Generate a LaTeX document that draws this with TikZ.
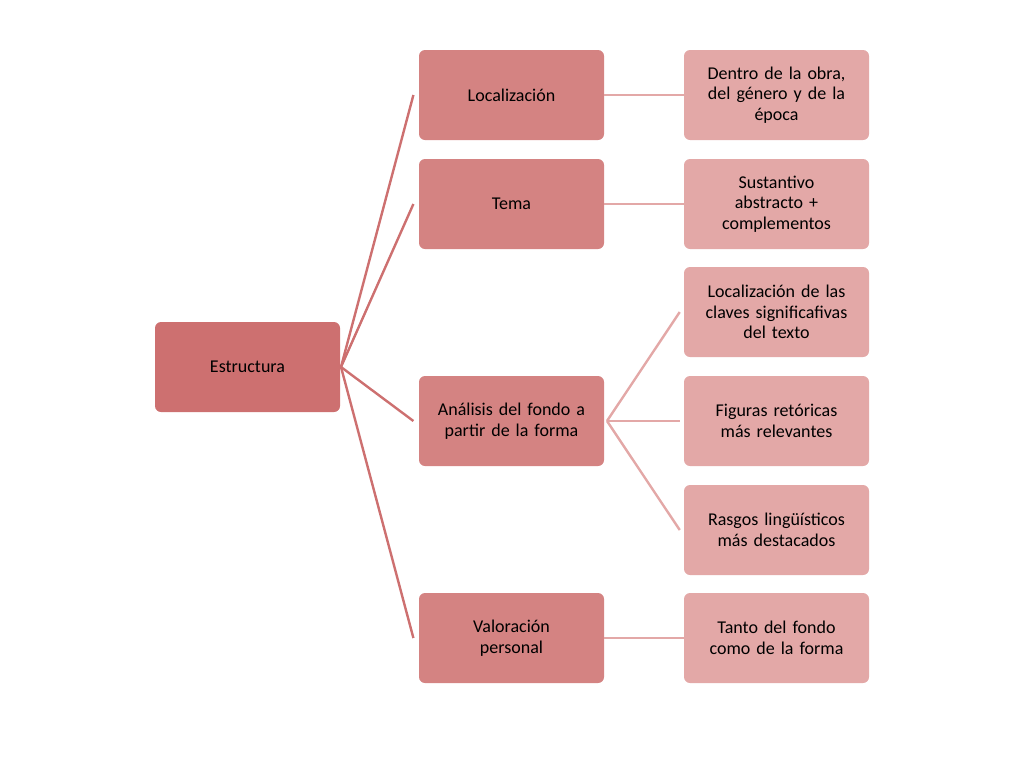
\documentclass[tikz,border=0pt]{standalone}
\usepackage{fontspec}
\setmainfont{Carlito}
\definecolor{c1}{HTML}{CD7070}
\definecolor{c2}{HTML}{D48382}
\definecolor{c3}{HTML}{E3A8A7}
\begin{document}
\begin{tikzpicture}[x=0.75pt,y=-0.75pt,
  box/.style={rounded corners=4.5pt,minimum width=138.75pt,minimum height=67.5pt,align=center,inner sep=2pt,text width=134pt,font=\fontsize{13.5}{15.5}\selectfont},
  b1/.style={box,fill=c1},b2/.style={box,fill=c2},b3/.style={box,fill=c3},
  l1/.style={draw=c1,line width=1.8pt},l2/.style={draw=c3,line width=1.8pt}]
\useasboundingbox (0,0) rectangle (1024,768);
\node[b1] (root) at (247.5,367) {Estructura};
\node[b2] (a) at (511.5,95) {Localización};
\node[b2] (b) at (511.5,204) {Tema};
\node[b2] (c) at (511.5,421) {Análisis del fondo a\\partir de la forma};
\node[b2] (d) at (511.5,638) {Valoración\\personal};
\node[b3] (a1) at (776.5,95) {Dentro de la obra,\\del género y de la\\época};
\node[b3] (b1) at (776.5,204) {Sustantivo\\abstracto +\\complementos};
\node[b3] (c1) at (776.5,312) {Localización de las\\claves significafivas\\del texto};
\node[b3] (c2) at (776.5,421) {Figuras retóricas\\más relevantes};
\node[b3] (c3) at (776.5,530) {Rasgos lingüísticos\\más destacados};
\node[b3] (d1) at (776.5,638) {Tanto del fondo\\como de la forma};
\coordinate (r) at (341,367);
\foreach \n in {a,b,c,d}{\draw[l1] (r) -- ([xshift=-4pt]\n.west);}
\coordinate (cr) at (607,421);
\foreach \n in {c1,c2,c3}{\draw[l2] (cr) -- ([xshift=-3pt]\n.west);}
\draw[l2] (a.east) -- (a1.west);
\draw[l2] (b.east) -- (b1.west);
\draw[l2] (d.east) -- (d1.west);
\end{tikzpicture}
\end{document}
